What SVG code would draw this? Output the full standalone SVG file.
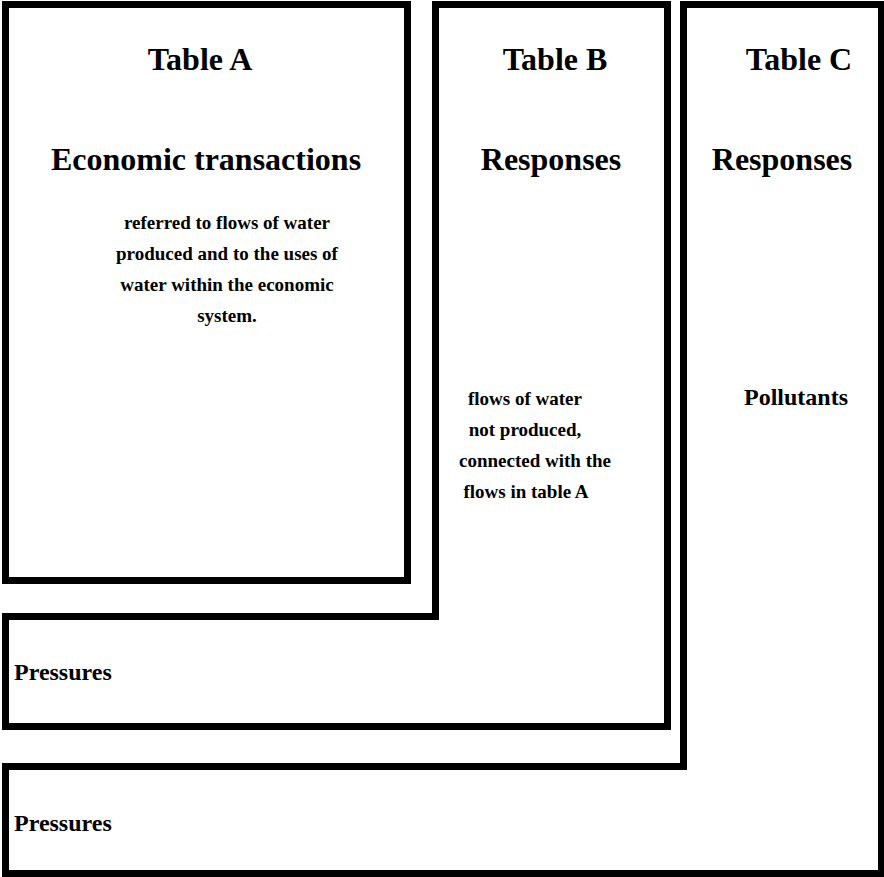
<svg xmlns="http://www.w3.org/2000/svg" width="884" height="877" viewBox="0 0 884 877">
<style>
.box{fill:none;stroke:#000;stroke-width:7;stroke-linejoin:miter}
text{font-family:"Liberation Serif","Times New Roman",serif;font-weight:bold;fill:#000}
.h{font-size:32px;text-anchor:middle}
.b{font-size:19px;text-anchor:middle}
.p{font-size:24px}
</style>
<rect width="884" height="877" fill="#fff"/>
<g id="tableC">
<path class="box" d="M683.5,4.5 H881.5 V873.5 H5.5 V766.5 H683.5 Z"/>
<text class="h" x="799" y="70">Table C</text>
<text class="h" x="782" y="170">Responses</text>
<text class="b" x="796" y="405" style="font-size:24px">Pollutants</text>
<text class="p" x="14" y="831">Pressures</text>
</g>
<g id="tableB">
<path class="box" d="M435.5,4.5 H667.5 V726.5 H5.5 V616.5 H435.5 Z"/>
<text class="h" x="555" y="70">Table B</text>
<text class="h" x="551" y="170">Responses</text>
<text class="b" x="525" y="405">flows of water</text>
<text class="b" x="525" y="436">not produced,</text>
<text class="b" x="535" y="467">connected with the</text>
<text class="b" x="526" y="498">flows in table A</text>
<text class="p" x="14" y="680">Pressures</text>
</g>
<g id="tableA">
<rect class="box" x="5.5" y="4.5" width="402" height="576"/>
<text class="h" x="200" y="70">Table A</text>
<text class="h" x="206" y="170">Economic transactions</text>
<text class="b" x="227" y="229">referred to flows of water</text>
<text class="b" x="227" y="260">produced and to the uses of</text>
<text class="b" x="227" y="291">water within the economic</text>
<text class="b" x="227" y="322">system.</text>
</g>
<g id="connectors"></g>
</svg>
